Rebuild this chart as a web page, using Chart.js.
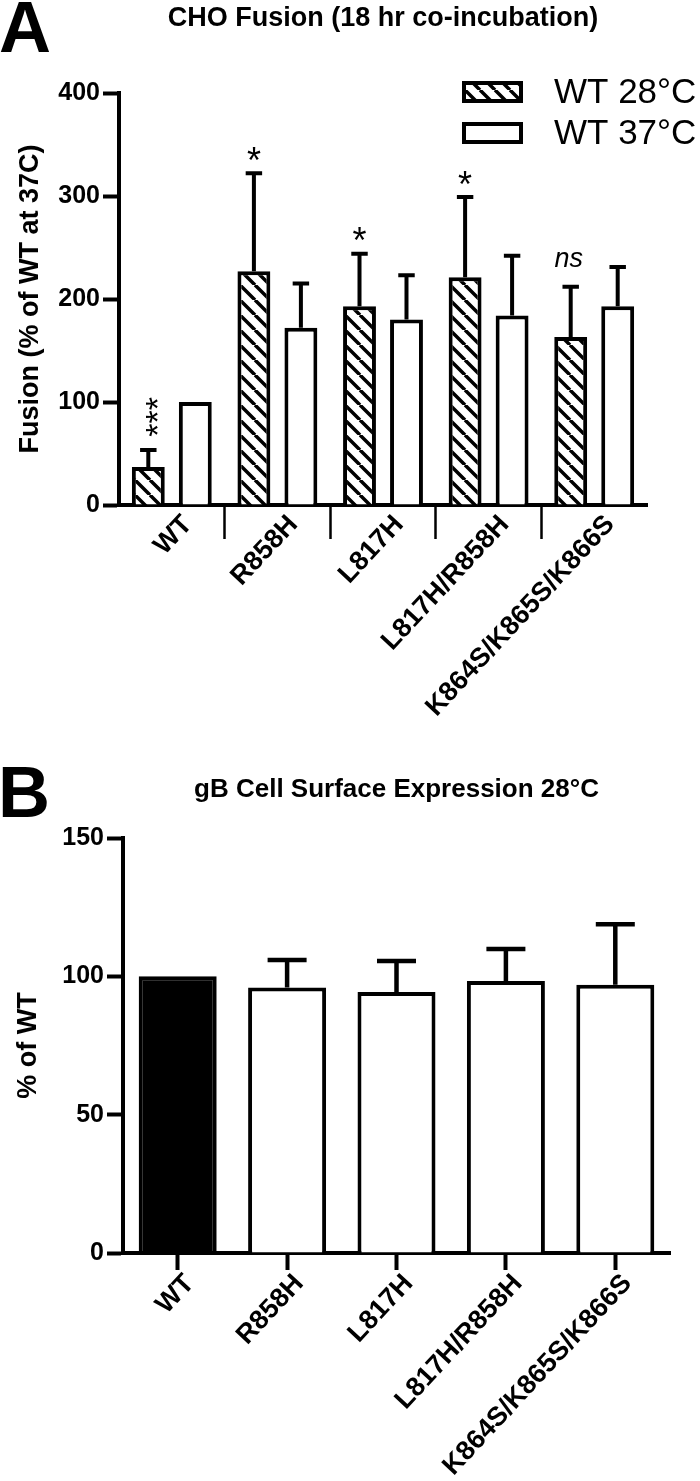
<!DOCTYPE html>
<html><head><meta charset="utf-8">
<script src="https://cdn.jsdelivr.net/npm/chart.js@4"></script>
<style>
html,body{margin:0;padding:0;background:#fff;}
body{width:700px;height:1481px;position:relative;overflow:hidden;font-family:"Liberation Sans",Arial,sans-serif;}
.abs{position:absolute;white-space:nowrap;line-height:1;color:#000;}
#cA{position:absolute;left:0;top:0;}
#cB{position:absolute;left:0;top:760px;}
</style></head><body>
<canvas id="cA" width="700" height="770"></canvas>
<canvas id="cB" width="700" height="721"></canvas>
<div class="abs" style="left:-1px;top:-9px;font-size:72px;font-weight:bold;">A</div>
<div class="abs" style="left:66px;width:634px;text-align:center;top:4px;font-size:27px;font-weight:bold;">CHO Fusion (18 hr co-incubation)</div>
<div class="abs" style="left:-2px;top:756px;font-size:72px;font-weight:bold;">B</div>
<div class="abs" style="left:93px;width:607px;text-align:center;top:775px;font-size:26px;font-weight:bold;">gB Cell Surface Expression 28°C</div>
<script>
// ---- data ----
const categories = ['WT', 'R858H', 'L817H', 'L817H/R858H', 'K864S/K865S/K866S'];
const seriesLabels = ['WT 28°C', 'WT 37°C'];
const fusion28 = [37, 227, 193, 221, 163];
const fusion28Err = [16.5, 95, 51, 78, 49];
const fusion28Sig = ['***', '*', '*', '*', 'ns'];
const fusion37 = [100, 172, 180, 184, 193];
const fusion37Err = [0, 43, 43, 58, 38];
const fusionTicks = [0, 100, 200, 300, 400];
const surfaceLabel = '% of WT';
const surface = [100, 96, 94.3, 98.3, 97];
const surfaceErr = [0, 9.9, 11.2, 11.6, 21.8];
const surfaceTicks = [0, 50, 100, 150];

const FAM = '"Liberation Sans", Arial, sans-serif';
Chart.defaults.font.family = FAM;
Chart.defaults.color = '#000';

function makeHatch(ctx) {
  const p = 15;
  const c = document.createElement('canvas');
  c.width = p; c.height = p;
  const g = c.getContext('2d');
  g.fillStyle = '#fff'; g.fillRect(0, 0, p, p);
  g.strokeStyle = '#000'; g.lineWidth = 3.5;
  g.beginPath();
  for (const k of [-p, 0, p]) { g.moveTo(k, 0); g.lineTo(k + p, p); }
  g.stroke();
  return ctx.createPattern(c, 'repeat');
}

const errorBars = {
  id: 'errorBars',
  afterDatasetsDraw(chart, args, opts) {
    const ctx = chart.ctx;
    const ys = chart.scales.y;
    chart.data.datasets.forEach((ds, di) => {
      const meta = chart.getDatasetMeta(di);
      meta.data.forEach((bar, i) => {
        const e = ds.errors ? ds.errors[i] : 0;
        const v = ds.data[i];
        const yTop = ys.getPixelForValue(v + e);
        ctx.save();
        ctx.strokeStyle = '#000';
        ctx.lineWidth = opts.lineWidth || 4;
        if (e) {
          const half = bar.width / 4;
          ctx.beginPath();
          ctx.moveTo(bar.x, ys.getPixelForValue(v));
          ctx.lineTo(bar.x, yTop);
          ctx.moveTo(bar.x - half, yTop);
          ctx.lineTo(bar.x + half, yTop);
          ctx.stroke();
        }
        const s = ds.sig ? ds.sig[i] : null;
        if (s) {
          ctx.fillStyle = '#000';
          ctx.textAlign = 'center';
          if (s === 'ns') {
            ctx.font = 'italic 27px ' + FAM;
            ctx.textBaseline = 'middle';
            ctx.fillText(s, bar.x - 2, yTop - 27);
          } else if (s.length > 1) {
            const F = 34;
            ctx.font = F + 'px ' + FAM;
            ctx.textBaseline = 'alphabetic';
            ctx.translate(bar.x + 1, yTop - 33);
            ctx.rotate(-Math.PI / 2);
            ctx.fillText(s, 0, 0.57 * F);
          } else {
            const F = 36;
            ctx.font = F + 'px ' + FAM;
            ctx.textBaseline = 'alphabetic';
            ctx.fillText(s, bar.x, yTop - 21 + 0.57 * F);
          }
        }
        ctx.restore();
      });
    });
  }
};

const boxLegend = {
  id: 'boxLegend',
  afterDraw(chart, args, opts) {
    const ctx = chart.ctx;
    chart.data.datasets.forEach((ds, i) => {
      const cy = opts.y[i];
      const x = opts.x, w = 61, h = 22;
      ctx.save();
      ctx.fillStyle = ds.backgroundColor;
      ctx.fillRect(x, cy - h / 2, w, h);
      ctx.strokeStyle = '#000'; ctx.lineWidth = 4;
      ctx.strokeRect(x + 2, cy - h / 2 + 2, w - 4, h - 4);
      ctx.fillStyle = '#000';
      ctx.font = '35px ' + FAM;
      ctx.textBaseline = 'middle';
      ctx.textAlign = 'left';
      ctx.fillText(ds.label, opts.textX, cy + 1);
      ctx.restore();
    });
  }
};

const ctxA = document.getElementById('cA').getContext('2d');
const hatch = makeHatch(ctxA);

new Chart(ctxA, {
  type: 'bar',
  data: {
    labels: categories,
    datasets: [
      { label: seriesLabels[0], data: fusion28, errors: fusion28Err, sig: fusion28Sig,
        backgroundColor: hatch, borderColor: '#000', borderWidth: 4, borderSkipped: 'start',
        categoryPercentage: 0.89, barPercentage: 0.70 },
      { label: seriesLabels[1], data: fusion37, errors: fusion37Err,
        backgroundColor: '#fff', borderColor: '#000', borderWidth: 4, borderSkipped: 'start',
        categoryPercentage: 0.89, barPercentage: 0.70 }
    ]
  },
  plugins: [errorBars, boxLegend],
  options: {
    responsive: false, animation: false, devicePixelRatio: 1,
    layout: { padding: { top: 93, right: 53, left: 0, bottom: 0 } },
    plugins: {
      legend: { display: false }, tooltip: { enabled: false }, title: { display: false },
      errorBars: { lineWidth: 4 },
      boxLegend: { x: 462, textX: 554, y: [92, 133] }
    },
    scales: {
      x: {
        grid: { offset: true, drawOnChartArea: false, drawTicks: true, tickLength: 34, tickWidth: 2.5,
                tickColor: (c) => (c.type !== 'tick' || c.index === 0) ? 'rgba(0,0,0,0)' : '#000' },
        border: { display: true, width: 4, color: '#000' },
        ticks: { color: '#000', font: { size: 27, weight: 'bold' }, minRotation: 47, maxRotation: 47,
                 autoSkip: false, padding: -30, labelOffset: 16 },
        afterFit(s) { s.height = 265; }
      },
      y: {
        min: fusionTicks[0], max: fusionTicks[fusionTicks.length - 1],
        afterBuildTicks(s) { s.ticks = fusionTicks.map(v => ({ value: v })); },
        ticks: { color: '#000', font: { size: 25, weight: 'bold' }, padding: 3 },
        grid: { drawOnChartArea: false, drawTicks: true, tickLength: 16, tickWidth: 4, tickColor: '#000' },
        border: { display: true, width: 4, color: '#000' },
        title: { display: true, text: 'Fusion (% of WT at 37C)', color: '#000',
                 font: { size: 27, weight: 'bold' }, padding: { top: 14, bottom: 0 } },
        afterFit(s) { s.width = 119; }
      }
    }
  }
});

const ctxB = document.getElementById('cB').getContext('2d');
new Chart(ctxB, {
  type: 'bar',
  data: {
    labels: categories,
    datasets: [
      { label: surfaceLabel, data: surface, errors: surfaceErr,
        backgroundColor: (c) => categories[c.index] === 'WT' ? '#000' : '#fff',
        borderColor: '#000', borderWidth: 4, borderSkipped: 'start',
        categoryPercentage: 1, barPercentage: 0.713 }
    ]
  },
  plugins: [errorBars],
  options: {
    responsive: false, animation: false, devicePixelRatio: 1,
    layout: { padding: { top: 78, right: 30, left: 0, bottom: 0 } },
    plugins: {
      legend: { display: false }, tooltip: { enabled: false }, title: { display: false },
      errorBars: { lineWidth: 4.5 }
    },
    scales: {
      x: {
        grid: { offset: false, drawOnChartArea: false, drawTicks: true, tickLength: 17, tickWidth: 4, tickColor: '#000' },
        border: { display: true, width: 4, color: '#000' },
        ticks: { color: '#000', font: { size: 27, weight: 'bold' }, minRotation: 47, maxRotation: 47,
                 autoSkip: false, padding: -2, labelOffset: 12 },
        afterFit(s) { s.height = 228; }
      },
      y: {
        min: surfaceTicks[0], max: surfaceTicks[surfaceTicks.length - 1],
        afterBuildTicks(s) { s.ticks = surfaceTicks.map(v => ({ value: v })); },
        ticks: { color: '#000', font: { size: 25, weight: 'bold' }, padding: 3 },
        grid: { drawOnChartArea: false, drawTicks: true, tickLength: 16, tickWidth: 4, tickColor: '#000' },
        border: { display: true, width: 4, color: '#000' },
        title: { display: true, text: surfaceLabel, color: '#000',
                 font: { size: 27, weight: 'bold' }, padding: { top: 12, bottom: 0 } },
        afterFit(s) { s.width = 123; }
      }
    }
  }
});
</script>
</body></html>
